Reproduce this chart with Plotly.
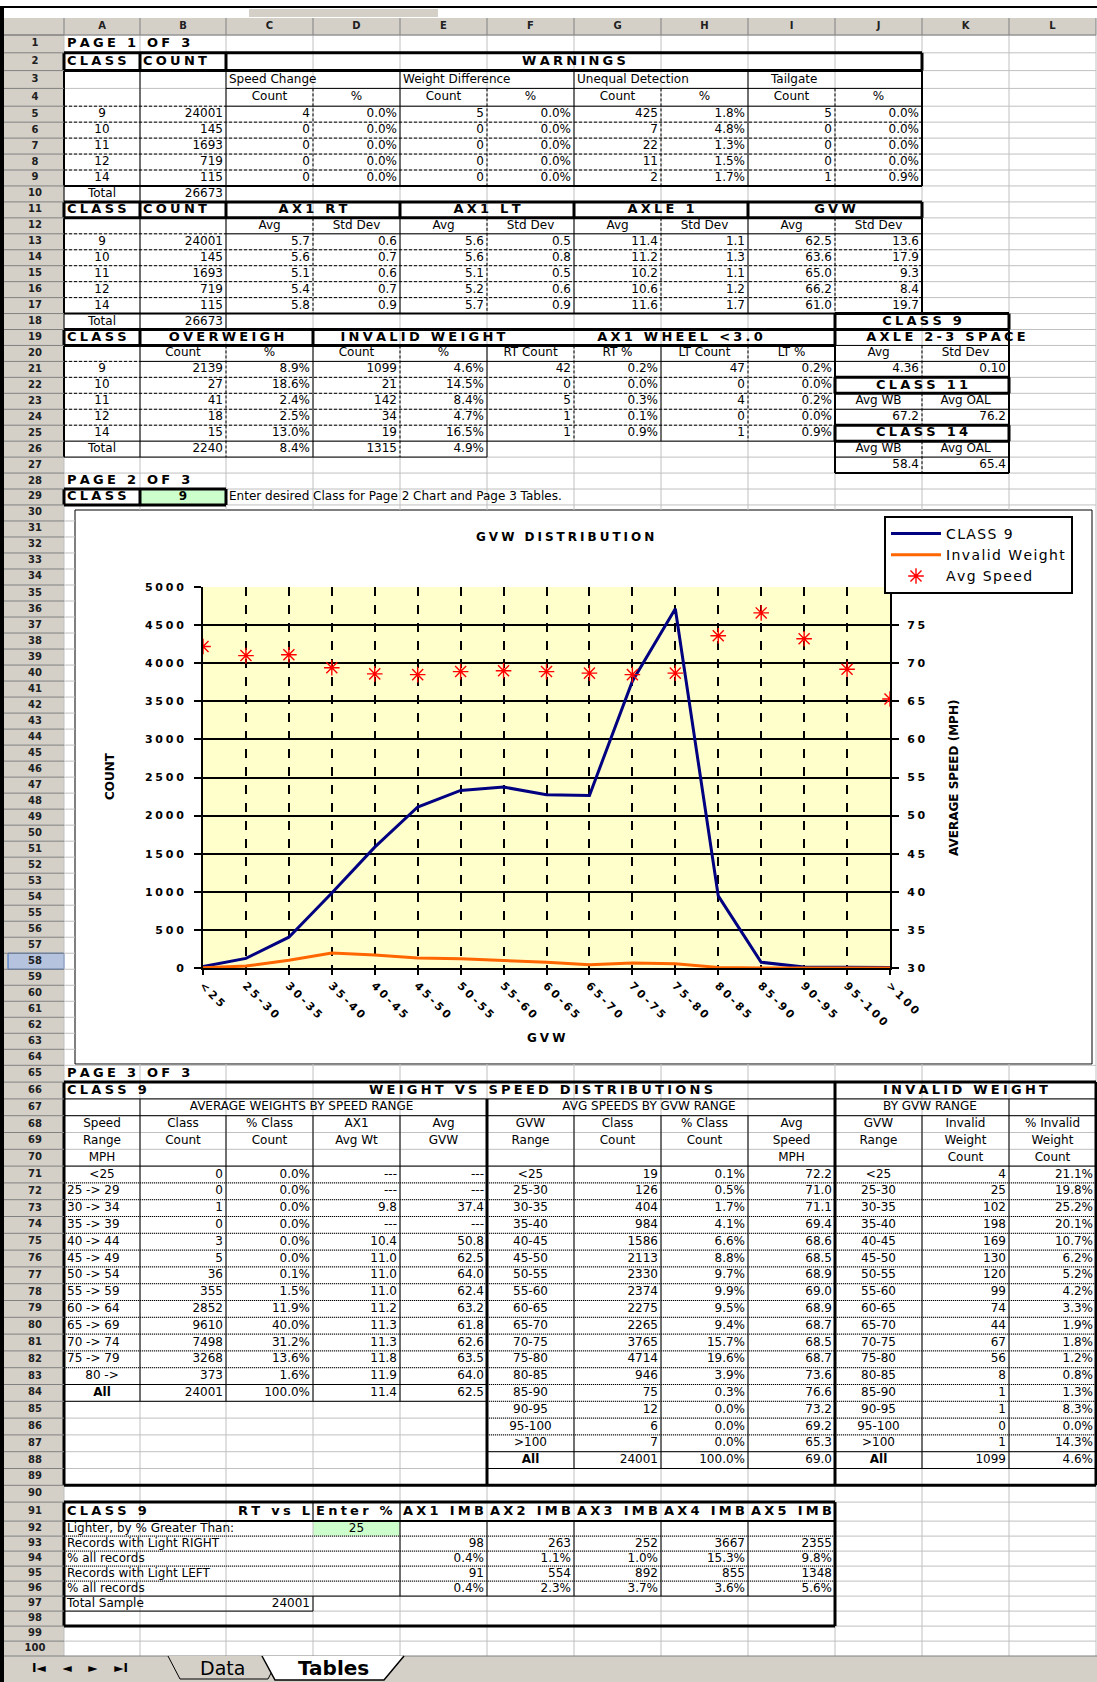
import plotly.graph_objects as go

W, H = 1097, 1682
FONT = "DejaVu Sans"

# ---------------- page 1 data ----------------
classes = ["9", "10", "11", "12", "14"]
class_counts = [24001, 145, 1693, 719, 115]
class_total = 26673
speed_change = [4, 0, 0, 0, 0]
speed_change_pct = ["0.0%", "0.0%", "0.0%", "0.0%", "0.0%"]
weight_diff = [5, 0, 0, 0, 0]
weight_diff_pct = ["0.0%", "0.0%", "0.0%", "0.0%", "0.0%"]
unequal_det = [425, 7, 22, 11, 2]
unequal_det_pct = ["1.8%", "4.8%", "1.3%", "1.5%", "1.7%"]
tailgate = [5, 0, 0, 0, 1]
tailgate_pct = ["0.0%", "0.0%", "0.0%", "0.0%", "0.9%"]

ax1rt_avg = ["5.7", "5.6", "5.1", "5.4", "5.8"]
ax1rt_sd = ["0.6", "0.7", "0.6", "0.7", "0.9"]
ax1lt_avg = ["5.6", "5.6", "5.1", "5.2", "5.7"]
ax1lt_sd = ["0.5", "0.8", "0.5", "0.6", "0.9"]
axle1_avg = ["11.4", "11.2", "10.2", "10.6", "11.6"]
axle1_sd = ["1.1", "1.3", "1.1", "1.2", "1.7"]
gvw_avg = ["62.5", "63.6", "65.0", "66.2", "61.0"]
gvw_sd = ["13.6", "17.9", "9.3", "8.4", "19.7"]

overweight = [2139, 27, 41, 18, 15]
overweight_pct = ["8.9%", "18.6%", "2.4%", "2.5%", "13.0%"]
invalid_wt = [1099, 21, 142, 34, 19]
invalid_wt_pct = ["4.6%", "14.5%", "8.4%", "4.7%", "16.5%"]
wheel_rt = [42, 0, 5, 1, 1]
wheel_rt_pct = ["0.2%", "0.0%", "0.3%", "0.1%", "0.9%"]
wheel_lt = [47, 0, 4, 0, 1]
wheel_lt_pct = ["0.2%", "0.0%", "0.2%", "0.0%", "0.9%"]
totals_row26 = ["2240", "8.4%", "1315", "4.9%"]

# ---------------- page 2 / page 3 GVW data ----------------
gvw_ranges = ["<25", "25-30", "30-35", "35-40", "40-45", "45-50", "50-55", "55-60", "60-65",
              "65-70", "70-75", "75-80", "80-85", "85-90", "90-95", "95-100", ">100"]
gvw_count = [19, 126, 404, 984, 1586, 2113, 2330, 2374, 2275, 2265, 3765, 4714, 946, 75, 12, 6, 7]
gvw_pct = ["0.1%", "0.5%", "1.7%", "4.1%", "6.6%", "8.8%", "9.7%", "9.9%", "9.5%", "9.4%",
           "15.7%", "19.6%", "3.9%", "0.3%", "0.0%", "0.0%", "0.0%"]
gvw_speed = [72.2, 71.0, 71.1, 69.4, 68.6, 68.5, 68.9, 69.0, 68.9, 68.7, 68.5, 68.7, 73.6, 76.6,
             73.2, 69.2, 65.3]
invalid_count = [4, 25, 102, 198, 169, 130, 120, 99, 74, 44, 67, 56, 8, 1, 1, 0, 1]
invalid_pct = ["21.1%", "19.8%", "25.2%", "20.1%", "10.7%", "6.2%", "5.2%", "4.2%", "3.3%", "1.9%",
               "1.8%", "1.2%", "0.8%", "1.3%", "8.3%", "0.0%", "14.3%"]

count_ticks = [0, 500, 1000, 1500, 2000, 2500, 3000, 3500, 4000, 4500, 5000]
speed_ticks = [30, 35, 40, 45, 50, 55, 60, 65, 70, 75]

speed_ranges = ["<25", "25 -> 29", "30 -> 34", "35 -> 39", "40 -> 44", "45 -> 49", "50 -> 54",
                "55 -> 59", "60 -> 64", "65 -> 69", "70 -> 74", "75 -> 79", "80 ->"]
speed_count = [0, 0, 1, 0, 3, 5, 36, 355, 2852, 9610, 7498, 3268, 373]
speed_pct = ["0.0%", "0.0%", "0.0%", "0.0%", "0.0%", "0.0%", "0.1%", "1.5%", "11.9%", "40.0%",
             "31.2%", "13.6%", "1.6%"]
speed_ax1 = ["---", "---", "9.8", "---", "10.4", "11.0", "11.0", "11.0", "11.2", "11.3", "11.3",
             "11.8", "11.9"]
speed_gvw = ["---", "---", "37.4", "---", "50.8", "62.5", "64.0", "62.4", "63.2", "61.8", "62.6",
             "63.5", "64.0"]

imb_axles = ["AX1 IMB", "AX2 IMB", "AX3 IMB", "AX4 IMB", "AX5 IMB"]
light_right = [98, 263, 252, 3667, 2355]
light_right_pct = ["0.4%", "1.1%", "1.0%", "15.3%", "9.8%"]
light_left = [91, 554, 892, 855, 1348]
light_left_pct = ["0.4%", "2.3%", "3.7%", "3.6%", "5.6%"]

# ---------------- sheet geometry ----------------
COLS = "ABCDEFGHIJKLM"
EDGES = [64, 140, 226, 313, 400, 487, 574, 661, 748, 835, 922, 1009, 1096]
HDR_TOP, TOP = 18.0, 35.0
ROW_H = [17.8] * 4 + [15.95] * 25 + [16.01] * 35 + [16.8] * 26 + [19.0] + [15.0] * 9
ROW_Y = [TOP]
for h in ROW_H:
    ROW_Y.append(ROW_Y[-1] + h)
TAB_TOP = 1656.0
FRAME = (75, 510, 1092, 1064)      # chart object on page 2
PLOT = (203, 587, 890, 968)        # plot area of the chart


def X(c):
    return EDGES[COLS.index(c)]


def XR(c):
    return EDGES[COLS.index(c) + 1]


def Y(r):
    return ROW_Y[r - 1]


def YC(r):
    return (ROW_Y[r - 1] + ROW_Y[r]) / 2


def esc(s):
    return s.replace("<", "&lt;").replace(">", "&gt;")


def hd(s):
    # heavy, wide header lettering
    return "<b>" + "\u2005".join(esc(ch) for ch in s) + "</b>"


def loose(s):
    return "\u200a".join(s)


def px_rect(x0, y0, x1, y1, **kw):
    return dict(type="rect", xref="paper", yref="paper", x0=x0 / W, x1=x1 / W,
                y0=1 - y1 / H, y1=1 - y0 / H, layer="below", **kw)


segs = {}


def seg(style, x0, y0, x1, y1):
    xs, ys = segs.setdefault(style, ([], []))
    xs += [x0, x1, None]
    ys += [y0, y1, None]


def hl(r, c1, c2, st):
    seg(st, X(c1), Y(r), XR(c2), Y(r))


def vl(c, r1, r2, st):
    seg(st, X(c), Y(r1), X(c), Y(r2 + 1))


def box(c1, r1, c2, r2, st):
    hl(r1, c1, c2, st)
    hl(r2 + 1, c1, c2, st)
    vl(c1, r1, r2, st)
    vl(COLS[COLS.index(c2) + 1], r1, r2, st)


cells = []


def put(r, c, text, al="l", c2=None, size=12, dx=0):
    c2 = c2 or c
    if al == "l":
        x, pos = X(c) + 3, "middle right"
    elif al == "r":
        x, pos = XR(c2) - 3, "middle left"
    else:
        x, pos = (X(c) + XR(c2)) / 2, "middle center"
    cells.append((x + dx, YC(r), text, pos, size))


HS = 13  # header text size

# ---------------- page 1 ----------------
put(1, "A", hd("PAGE 1 OF 3"), size=HS)
put(2, "A", hd("CLASS"), size=HS)
put(2, "B", hd("COUNT"), size=HS)
put(2, "C", hd("WARNINGS"), "c", "J", size=HS)
put(3, "C", "Speed Change")
put(3, "E", "Weight Difference")
put(3, "G", "Unequal Detection")
put(3, "I", "Tailgate", dx=20)
for i, c in enumerate("CDEFGHIJ"):
    put(4, c, "Count" if i % 2 == 0 else "%", "c")
for i in range(5):
    r = 5 + i
    put(r, "A", classes[i], "c")
    put(r, "B", str(class_counts[i]), "r")
    vals = [speed_change[i], speed_change_pct[i], weight_diff[i], weight_diff_pct[i],
            unequal_det[i], unequal_det_pct[i], tailgate[i], tailgate_pct[i]]
    for c, v in zip("CDEFGHIJ", vals):
        put(r, c, str(v), "r")
put(10, "A", "Total", "c")
put(10, "B", str(class_total), "r")

put(11, "A", hd("CLASS"), size=HS)
put(11, "B", hd("COUNT"), size=HS)
for c, c2, t in [("C", "D", "AX1 RT"), ("E", "F", "AX1 LT"), ("G", "H", "AXLE 1"), ("I", "J", "GVW")]:
    put(11, c, hd(t), "c", c2, size=HS)
for i, c in enumerate("CDEFGHIJ"):
    put(12, c, "Avg" if i % 2 == 0 else "Std Dev", "c")
for i in range(5):
    r = 13 + i
    put(r, "A", classes[i], "c")
    put(r, "B", str(class_counts[i]), "r")
    vals = [ax1rt_avg[i], ax1rt_sd[i], ax1lt_avg[i], ax1lt_sd[i],
            axle1_avg[i], axle1_sd[i], gvw_avg[i], gvw_sd[i]]
    for c, v in zip("CDEFGHIJ", vals):
        put(r, c, v, "r")
put(18, "A", "Total", "c")
put(18, "B", str(class_total), "r")
put(18, "J", hd("CLASS 9"), "c", "K", size=HS)

put(19, "A", hd("CLASS"), size=HS)
put(19, "B", hd("OVERWEIGH"), "c", "C", size=HS)
put(19, "D", hd("INVALID WEIGHT"), "c", "E", dx=23, size=HS)
put(19, "F", hd("AX1 WHEEL <3.0"), "c", "I", dx=19, size=HS)
put(19, "J", hd("AXLE 2-3 SPACE"), "c", "K", dx=24, size=HS)
for c, t in zip("BCDEFGHIJK", ["Count", "%", "Count", "%", "RT Count", "RT %", "LT Count", "LT %",
                               "Avg", "Std Dev"]):
    put(20, c, t, "c")
for i in range(5):
    r = 21 + i
    put(r, "A", classes[i], "c")
    vals = [overweight[i], overweight_pct[i], invalid_wt[i], invalid_wt_pct[i],
            wheel_rt[i], wheel_rt_pct[i], wheel_lt[i], wheel_lt_pct[i]]
    for c, v in zip("BCDEFGHI", vals):
        put(r, c, str(v), "r")
put(26, "A", "Total", "c")
for c, v in zip("BCDE", totals_row26):
    put(26, c, v, "r")
put(21, "J", "4.36", "r")
put(21, "K", "0.10", "r")
put(22, "J", hd("CLASS 11"), "c", "K", size=HS)
put(23, "J", "Avg WB", "c")
put(23, "K", "Avg OAL", "c")
put(24, "J", "67.2", "r")
put(24, "K", "76.2", "r")
put(25, "J", hd("CLASS 14"), "c", "K", size=HS)
put(26, "J", "Avg WB", "c")
put(26, "K", "Avg OAL", "c")
put(27, "J", "58.4", "r")
put(27, "K", "65.4", "r")
put(28, "A", hd("PAGE 2 OF 3"), size=HS)
put(29, "A", hd("CLASS"), size=HS)
put(29, "B", "<b>9</b>", "c")
put(29, "C", "Enter desired Class for Page 2 Chart and Page 3 Tables.")

# ---------------- page 3 ----------------
put(65, "A", hd("PAGE 3 OF 3"), size=HS)
put(66, "A", hd("CLASS 9"), size=HS)
put(66, "E", hd("WEIGHT VS SPEED DISTRIBUTIONS"), "c", "F", dx=54, size=HS)
put(66, "J", hd("INVALID WEIGHT"), "c", "L", size=HS)
put(67, "B", "AVERAGE WEIGHTS BY SPEED RANGE", "c", "E", dx=-12)
put(67, "F", "AVG SPEEDS BY GVW RANGE", "c", "I", dx=-12)
put(67, "J", "BY GVW RANGE", "c", "K", dx=8)
head3 = {
    "A": ["Speed", "Range", "MPH"], "B": ["Class", "Count", ""], "C": ["% Class", "Count", ""],
    "D": ["AX1", "Avg Wt", ""], "E": ["Avg", "GVW", ""], "F": ["GVW", "Range", ""],
    "G": ["Class", "Count", ""], "H": ["% Class", "Count", ""], "I": ["Avg", "Speed", "MPH"],
    "J": ["GVW", "Range", ""], "K": ["Invalid", "Weight", "Count"], "L": ["% Invalid", "Weight", "Count"],
}
for c, lines in head3.items():
    for k, t in enumerate(lines):
        if t:
            put(68 + k, c, t, "c")
for i in range(len(speed_ranges)):
    r = 71 + i
    al = "c" if i in (0, len(speed_ranges) - 1) else "l"
    put(r, "A", esc(speed_ranges[i]), al)
    put(r, "B", str(speed_count[i]), "r")
    put(r, "C", speed_pct[i], "r")
    put(r, "D", speed_ax1[i], "r")
    put(r, "E", speed_gvw[i], "r")
for c, v, al in zip("ABCDE", ["<b>All</b>", "24001", "100.0%", "11.4", "62.5"], "crrrr"):
    put(84, c, v, al)
for i in range(len(gvw_ranges)):
    r = 71 + i
    put(r, "F", esc(gvw_ranges[i]), "c")
    put(r, "G", str(gvw_count[i]), "r")
    put(r, "H", gvw_pct[i], "r")
    put(r, "I", f"{gvw_speed[i]:.1f}", "r")
    put(r, "J", esc(gvw_ranges[i]), "c")
    put(r, "K", str(invalid_count[i]), "r")
    put(r, "L", invalid_pct[i], "r")
for c, v, al in zip("FGHIJKL", ["<b>All</b>", "24001", "100.0%", "69.0", "<b>All</b>", "1099", "4.6%"],
                    "crrrcrr"):
    put(88, c, v, al)

put(91, "A", hd("CLASS 9"), size=HS)
put(91, "C", hd("RT vs L"), "r", size=HS)
put(91, "D", hd("Enter %"), size=HS)
for c, t in zip("EFGHI", imb_axles):
    put(91, c, hd(t), size=HS)
put(92, "A", "Lighter, by % Greater Than:")
put(92, "D", "25", "c")
rows4 = [("Records with Light RIGHT", light_right), ("% all records", light_right_pct),
         ("Records with Light LEFT", light_left), ("% all records", light_left_pct)]
for k, (lab, vals) in enumerate(rows4):
    put(93 + k, "A", esc(lab))
    for c, v in zip("EFGHI", vals):
        put(93 + k, c, str(v), "r")
put(97, "A", "Total Sample")
put(97, "C", "24001", "r")

# ---------------- borders ----------------
box("A", 2, "J", 2, "thick")
vl("B", 2, 2, "thick")
vl("C", 2, 2, "thick")
vl("A", 3, 9, "med")
vl("K", 3, 9, "med")
for c in "BCEGI":
    vl(c, 3, 9, "thin")
for c in "DFHJ":
    vl(c, 4, 9, "dash")
hl(4, "C", "J", "thin")
hl(5, "C", "J", "thin")
hl(5, "A", "B", "dash")
for r in range(6, 10):
    hl(r, "A", "J", "dash")
hl(10, "A", "J", "med")
box("A", 10, "B", 10, "thin")
vl("B", 10, 10, "thin")

box("A", 11, "J", 11, "thick")
for c in "BCEGI":
    vl(c, 11, 11, "thick")
vl("A", 12, 17, "med")
vl("K", 12, 17, "med")
for c in "BCEGI":
    vl(c, 12, 17, "thin")
for c in "DFHJ":
    vl(c, 12, 17, "dash")
hl(13, "C", "J", "thin")
hl(13, "A", "B", "dash")
for r in range(14, 18):
    hl(r, "A", "J", "dash")
hl(18, "A", "J", "med")
box("A", 18, "B", 18, "thin")
vl("B", 18, 18, "thin")

box("A", 19, "I", 19, "thick")
vl("B", 19, 19, "thick")
vl("D", 19, 19, "thick")
vl("A", 20, 26, "med")
for c in "BDF":
    vl(c, 20, 26, "thin")
vl("H", 20, 25, "thin")
for c in "CE":
    vl(c, 20, 26, "dash")
for c in "GI":
    vl(c, 20, 25, "dash")
hl(21, "B", "I", "thin")
hl(21, "A", "A", "dash")
for r in range(22, 26):
    hl(r, "A", "I", "dash")
hl(26, "A", "I", "thin")
hl(27, "A", "E", "thin")

box("J", 18, "K", 18, "thick")
vl("J", 19, 27, "med")
vl("L", 19, 27, "med")
hl(20, "J", "K", "thin")
hl(21, "J", "K", "thin")
vl("K", 20, 21, "dash")
box("J", 22, "K", 22, "thick")
hl(24, "J", "K", "thin")
vl("K", 23, 24, "dash")
box("J", 25, "K", 25, "thick")
hl(27, "J", "K", "thin")
vl("K", 26, 27, "dash")
hl(28, "J", "K", "med")

box("A", 29, "B", 29, "thick")
vl("B", 29, 29, "thick")

hl(66, "A", "L", "thick")
vl("A", 66, 89, "thick")
vl("J", 66, 89, "thick")
vl("M", 66, 89, "thick")
hl(90, "A", "L", "thick")
vl("F", 67, 89, "thick")
hl(67, "A", "L", "thin")
vl("B", 67, 67, "thin")
vl("L", 67, 67, "thin")
hl(68, "A", "L", "thin")
for c in "BCDE":
    vl(c, 68, 84, "thin")
for c in "GHIKL":
    vl(c, 68, 88, "thin")
hl(71, "A", "L", "thin")
for r in range(72, 84):
    hl(r, "A", "E", "dot")
hl(84, "A", "E", "thin")
hl(85, "A", "E", "thin")
for r in range(72, 88):
    hl(r, "F", "L", "dot")
hl(88, "F", "L", "thin")
hl(89, "F", "L", "thin")

hl(91, "A", "I", "thick")
vl("A", 91, 98, "thick")
vl("J", 91, 98, "thick")
hl(99, "A", "I", "thick")
hl(92, "A", "I", "med")
vl("D", 91, 91, "thin")
vl("E", 91, 91, "thin")
for c in "EFGHI":
    vl(c, 92, 96, "thin")
for r in range(93, 97):
    hl(r, "A", "I", "dot")
hl(97, "A", "I", "thin")
hl(98, "A", "C", "thin")
vl("D", 97, 97, "thin")

# light sheet gridlines, kept off the chart object
grid_x, grid_y = [], []
for r in range(1, len(ROW_Y) + 1):
    y = Y(r)
    if y > TAB_TOP:
        continue
    x1 = FRAME[0] if FRAME[1] < y < FRAME[3] else EDGES[-1]
    grid_x += [EDGES[0], x1, None]
    grid_y += [y, y, None]
for x in EDGES:
    if FRAME[0] < x < FRAME[2]:
        grid_x += [x, x, None, x, x, None]
        grid_y += [TOP, FRAME[1], None, FRAME[3], TAB_TOP, None]
    else:
        grid_x += [x, x, None]
        grid_y += [TOP, TAB_TOP, None]

fig = go.Figure()

# ---------------- chart traces ----------------
fig.add_trace(go.Scatter(
    x=gvw_ranges, y=gvw_count, name=loose("CLASS 9"), mode="lines",
    line={"color": "#000080", "width": 3}, hoverinfo="skip",
))
fig.add_trace(go.Scatter(
    x=gvw_ranges, y=invalid_count, name=loose("Invalid Weight"), mode="lines",
    line={"color": "#FF6600", "width": 3}, hoverinfo="skip",
))
fig.add_trace(go.Scatter(
    x=gvw_ranges, y=gvw_speed, name=loose("Avg Speed"), mode="markers", yaxis="y3",
    marker={"symbol": "asterisk-open", "size": 13, "color": "red",
            "line": {"color": "red", "width": 1.4}},
    hoverinfo="skip",
))

# ---------------- sheet traces ----------------
fig.add_trace(go.Scatter(
    x=grid_x, y=grid_y, mode="lines", xaxis="x2", yaxis="y2", showlegend=False,
    line={"color": "#C0C0C0", "width": 1}, hoverinfo="skip",
))
STYLES = {
    "dot": {"color": "black", "width": 1, "dash": "1px,1px"},
    "dash": {"color": "black", "width": 1, "dash": "3px,2px"},
    "thin": {"color": "black", "width": 1},
    "med": {"color": "black", "width": 2},
    "thick": {"color": "black", "width": 3},
}
for st, line in STYLES.items():
    if st in segs:
        xs, ys = segs[st]
        fig.add_trace(go.Scatter(
            x=xs, y=ys, mode="lines", xaxis="x2", yaxis="y2", showlegend=False,
            line=line, hoverinfo="skip",
        ))

groups = {}
for x, y, t, pos, size in cells:
    groups.setdefault((pos, size), []).append((x, y, t))
for (pos, size), items in groups.items():
    fig.add_trace(go.Scatter(
        x=[i[0] for i in items], y=[i[1] for i in items], text=[i[2] for i in items],
        mode="text", textposition=pos, xaxis="x2", yaxis="y2", showlegend=False,
        textfont={"family": FONT, "size": size, "color": "black"}, hoverinfo="skip",
        cliponaxis=False,
    ))

# row / column headers
row_nums = [f"<b>{r}</b>" for r in range(1, 101)]
fig.add_trace(go.Scatter(
    x=[35] * len(row_nums), y=[YC(r) for r in range(1, 101)], text=row_nums,
    mode="text", textposition="middle center", xaxis="x2", yaxis="y2", showlegend=False,
    textfont={"family": FONT, "size": 10, "color": "#202020"}, hoverinfo="skip",
))
col_letters = list("ABCDEFGHIJKL")
fig.add_trace(go.Scatter(
    x=[(X(c) + XR(c)) / 2 for c in col_letters], y=[(HDR_TOP + TOP) / 2] * 12,
    text=[f"<b>{c}</b>" for c in col_letters],
    mode="text", textposition="middle center", xaxis="x2", yaxis="y2", showlegend=False,
    textfont={"family": FONT, "size": 10, "color": "#202020"}, hoverinfo="skip",
))
hdr_x, hdr_y = [], []
for r in range(1, len(ROW_Y) + 1):
    if Y(r) > TAB_TOP:
        continue
    hdr_x += [4, EDGES[0], None]
    hdr_y += [Y(r), Y(r), None]
for x in EDGES:
    hdr_x += [x, x, None]
    hdr_y += [HDR_TOP, TOP, None]
hdr_x += [4, EDGES[-1], None]
hdr_y += [TOP, TOP, None]
fig.add_trace(go.Scatter(
    x=hdr_x, y=hdr_y, mode="lines", xaxis="x2", yaxis="y2", showlegend=False,
    line={"color": "#808080", "width": 1}, hoverinfo="skip",
))

# ---------------- shapes ----------------
shapes = [
    px_rect(4, HDR_TOP, EDGES[-1], TOP, fillcolor="#D4D0C8", line={"width": 0}),
    px_rect(4, TOP, EDGES[0], TAB_TOP, fillcolor="#D4D0C8", line={"width": 0}),
    px_rect(8, Y(58), EDGES[0], Y(59), fillcolor="#B6C3DE", line={"color": "#316AC5", "width": 1}),
    px_rect(249, 9, 438, 17, fillcolor="#D4D0C8", line={"width": 0}),
    px_rect(X("B"), Y(29), XR("B"), Y(30), fillcolor="#CCFFCC", line={"width": 0}),
    px_rect(X("D"), Y(92), XR("D"), Y(93), fillcolor="#CCFFCC", line={"width": 0}),
    px_rect(FRAME[0], FRAME[1], FRAME[2], FRAME[3], fillcolor="white",
            line={"color": "black", "width": 1}),
    dict(type="rect", xref="x domain", yref="y domain", x0=0, y0=0, x1=1, y1=1,
         fillcolor="#FFFFCC", line={"width": 0}, layer="below"),
    # window frame
    dict(type="line", xref="x2", yref="y2", x0=0, y0=7, x1=W, y1=7, line={"color": "black", "width": 2}),
    dict(type="line", xref="x2", yref="y2", x0=2, y0=7, x1=2, y1=H, line={"color": "black", "width": 4}),
    # sheet tab bar
    dict(type="rect", xref="x2", yref="y2", x0=4, y0=TAB_TOP, x1=W, y1=H,
         fillcolor="#D4D0C8", line={"width": 0}),
    dict(type="line", xref="x2", yref="y2", x0=4, y0=TAB_TOP, x1=W, y1=TAB_TOP,
         line={"color": "#808080", "width": 1}),
    dict(type="path", xref="x2", yref="y2",
         path=f"M 168 {TAB_TOP} L 180 {TAB_TOP + 23} L 268 {TAB_TOP + 23} L 280 {TAB_TOP}",
         fillcolor="#D4D0C8", line={"color": "black", "width": 1}),
    dict(type="path", xref="x2", yref="y2",
         path=f"M 262 {TAB_TOP} L 275 {TAB_TOP + 24} L 384 {TAB_TOP + 24} L 404 {TAB_TOP}",
         fillcolor="white", line={"color": "black", "width": 1.5}),
]

tab_y = TAB_TOP + 12
annotations = [
    dict(xref="x2", yref="y2", x=565, y=537, text=hd("GVW DISTRIBUTION"), showarrow=False,
         font={"family": FONT, "size": 12, "color": "black"}),
    dict(xref="x2", yref="y2", x=110, y=776, text="<b>COUNT</b>", textangle=-90, showarrow=False,
         font={"family": FONT, "size": 12, "color": "black"}),
    dict(xref="x2", yref="y2", x=954, y=778, text="<b>AVERAGE SPEED (MPH)</b>", textangle=-90,
         showarrow=False, font={"family": FONT, "size": 12, "color": "black"}),
    dict(xref="x2", yref="y2", x=546, y=1038, text=hd("GVW"), showarrow=False,
         font={"family": FONT, "size": 12, "color": "black"}),
    dict(xref="x2", yref="y2", x=80, y=tab_y, text="<b>I\u25c4    \u25c4    \u25ba    \u25baI</b>",
         showarrow=False, font={"family": FONT, "size": 12, "color": "black"}),
    dict(xref="x2", yref="y2", x=222, y=tab_y, text="Data", showarrow=False,
         font={"family": FONT, "size": 19, "color": "black"}),
    dict(xref="x2", yref="y2", x=333, y=tab_y, text="<b>Tables</b>", showarrow=False,
         font={"family": FONT, "size": 20, "color": "black"}),
]

tick_font = {"family": FONT, "size": 11, "color": "black"}
fig.update_layout(
    width=W, height=H, autosize=False,
    margin=dict(l=0, r=0, t=0, b=0, autoexpand=False),
    paper_bgcolor="white", plot_bgcolor="rgba(0,0,0,0)",
    font={"family": FONT, "color": "black"},
    shapes=shapes, annotations=annotations,
    showlegend=True,
    legend={"x": 884 / W, "y": 1 - 516 / H, "xanchor": "left", "yanchor": "top",
            "bgcolor": "white", "bordercolor": "black", "borderwidth": 2, "itemwidth": 50,
            "font": {"family": FONT, "size": 14, "color": "black"}},
    xaxis={
        "domain": [PLOT[0] / W, PLOT[2] / W], "anchor": "y",
        "type": "category", "categoryorder": "array", "categoryarray": gvw_ranges,
        "range": [0, len(gvw_ranges) - 1],
        "tickmode": "array", "tickvals": gvw_ranges, "ticktext": [hd(g) for g in gvw_ranges],
        "tickangle": 45, "tickfont": tick_font,
        "showgrid": True, "gridcolor": "black", "gridwidth": 1.5, "griddash": "dash",
        "showline": True, "linecolor": "black", "linewidth": 2,
        "ticks": "outside", "ticklen": 5, "tickcolor": "black", "tickwidth": 1.5,
        "zeroline": False, "fixedrange": True,
    },
    yaxis={
        "domain": [1 - PLOT[3] / H, 1 - PLOT[1] / H], "anchor": "x",
        "range": [0, 5000], "tickmode": "array", "tickvals": count_ticks,
        "ticktext": [hd(str(v)) for v in count_ticks], "tickfont": tick_font,
        "showgrid": True, "gridcolor": "black", "gridwidth": 1.5,
        "showline": True, "linecolor": "black", "linewidth": 2,
        "ticks": "outside", "ticklen": 7, "tickcolor": "black", "tickwidth": 1.5,
        "ticklabelstandoff": 8, "zeroline": False, "fixedrange": True,
    },
    yaxis3={
        "overlaying": "y", "side": "right", "anchor": "x",
        "range": [30, 80], "tickmode": "array", "tickvals": speed_ticks,
        "ticktext": [hd(str(v)) for v in speed_ticks], "tickfont": tick_font,
        "showgrid": False, "showline": True, "linecolor": "black", "linewidth": 2,
        "ticks": "outside", "ticklen": 7, "tickcolor": "black", "tickwidth": 1.5,
        "ticklabelstandoff": 6, "zeroline": False, "fixedrange": True,
    },
    xaxis2={"domain": [0, 1], "range": [0, W], "visible": False, "anchor": "y2", "fixedrange": True},
    yaxis2={"domain": [0, 1], "range": [H, 0], "visible": False, "anchor": "x2", "fixedrange": True},
)

fig.write_html(
    "out.html",
    config={"displayModeBar": False},
    post_script="document.body.style.margin='0';document.body.style.overflow='hidden';",
)
